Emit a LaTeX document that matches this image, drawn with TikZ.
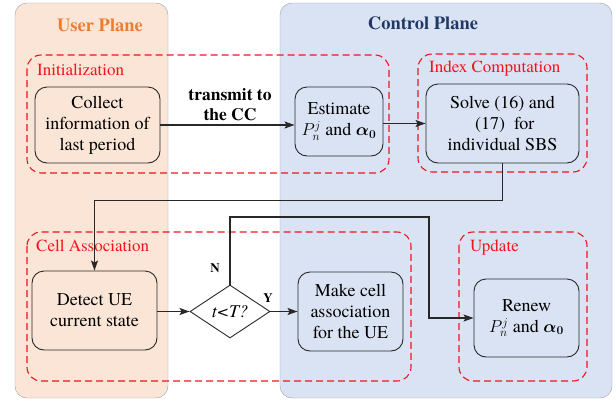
\documentclass[tikz,border=0pt]{standalone}
\usepackage{amsmath,bm}
\usepackage{fontspec}
\setmainfont{TeX Gyre Termes}
\usetikzlibrary{arrows.meta, positioning, shapes.geometric}
\definecolor{cuser}{RGB}{251,229,214}
\definecolor{cctrl}{RGB}{218,227,243}
\definecolor{cred}{RGB}{240,20,30}
\definecolor{corange}{RGB}{237,125,49}
\definecolor{cnavy}{RGB}{31,56,100}
\definecolor{cline}{RGB}{40,40,40}

\begin{document}
\begin{tikzpicture}[
  x=1pt, y=-1pt,
  font=\rmfamily\fontsize{18}{21}\selectfont,
  >={Stealth[length=10pt, width=7pt, inset=2pt]},
  plane/.style={draw=gray!75, rounded corners=12pt},
  title/.style={font=\rmfamily\fontsize{18.5}{22}\selectfont\bfseries},
  stage/.style={draw=cred, line width=1.1pt, dash pattern=on 7pt off 4pt,
                rounded corners=14pt},
  stagelbl/.style={text=cred, anchor=west, inner sep=0pt,
                   font=\rmfamily\fontsize{17}{20}\selectfont},
  block/.style={draw=cline, rounded corners=12pt, align=center,
                inner sep=0pt, line width=0.9pt},
  decide/.style={draw=cline, diamond, aspect=1.5, inner sep=0pt,
                 minimum width=80pt, minimum height=53pt, line width=0.9pt},
  yn/.style={font=\rmfamily\fontsize{13}{15}\selectfont\bfseries, inner sep=0pt},
  arr/.style={->, draw=cline, line width=1.1pt},
]
\useasboundingbox (0,0) rectangle (616,400);

% planes
\draw[plane, fill=cuser] (15,3) rectangle (168,398);
\draw[plane, fill=cctrl] (280,3) rectangle (612,398);
\node[title, text=corange] (user) at (100,25) {User Plane};
\node[title, text=cnavy] (ctrl) at (423,23) {Control Plane};

% stages
\draw[stage] (27,55) rectangle (389,173);
\draw[stage] (418,54) rectangle (587,172);
\draw[stage] (27,232) rectangle (411,381);
\draw[stage] (459,232) rectangle (587,381);
\node[stagelbl] (linit) at (37,70) {Initialization};
\node[stagelbl] (lindex) at (429,69) {Index Computation};
\node[stagelbl] (lcell) at (36,246) {Cell Association};
\node[stagelbl] (lupd) at (470,248) {Update};

% blocks
\node[block, minimum width=125pt, minimum height=76pt] (collect) at (97.5,125)
  {Collect\\information of\\last period};
\node[block, minimum width=88pt, minimum height=69pt] (estimate) at (339,121.5)
  {Estimate\\$P_n^j$ and $\bm{\alpha_0}$};
\node[block, minimum width=153pt, minimum height=79pt] (solve) at (502.5,123.5)
  {Solve (16) and\\~(17)~ for\\individual SBS};
\node[block, minimum width=125pt, minimum height=79pt] (detect) at (94.5,310.5)
  {Detect UE\\current state};
\node[decide] (test) at (230,311.5) {\itshape t<T?};
\node[block, minimum width=105pt, minimum height=79pt] (make) at (350.5,311.5)
  {Make cell\\association\\for the UE};
\node[block, minimum width=105pt, minimum height=78pt] (renew) at (526.5,318)
  {Renew\\$P_n^j$ and $\bm{\alpha_0}$};

\node[font=\rmfamily\fontsize{17.5}{20}\selectfont\bfseries, align=center] (tx) at (230,105)
  {transmit to\\the CC};
\node[yn] (lno) at (215,268) {N};
\node[yn] (lyes) at (268,298) {Y};
\coordinate (nturn) at (429,217);

% connectors
\draw[arr] (collect.east) -- (collect.east -| estimate.west);
\draw[arr] (estimate.east |- solve.west) -- (solve.west);
\draw[arr] (solve.south) -- ++(0,37) -| (detect.north);
\draw[arr] (detect.east |- test.west) -- (test.west);
\draw[arr] (test.east) -- (test.east -| make.west);
\draw[arr] (test.north) |- (nturn) |- (renew.west);
\end{tikzpicture}
\end{document}
